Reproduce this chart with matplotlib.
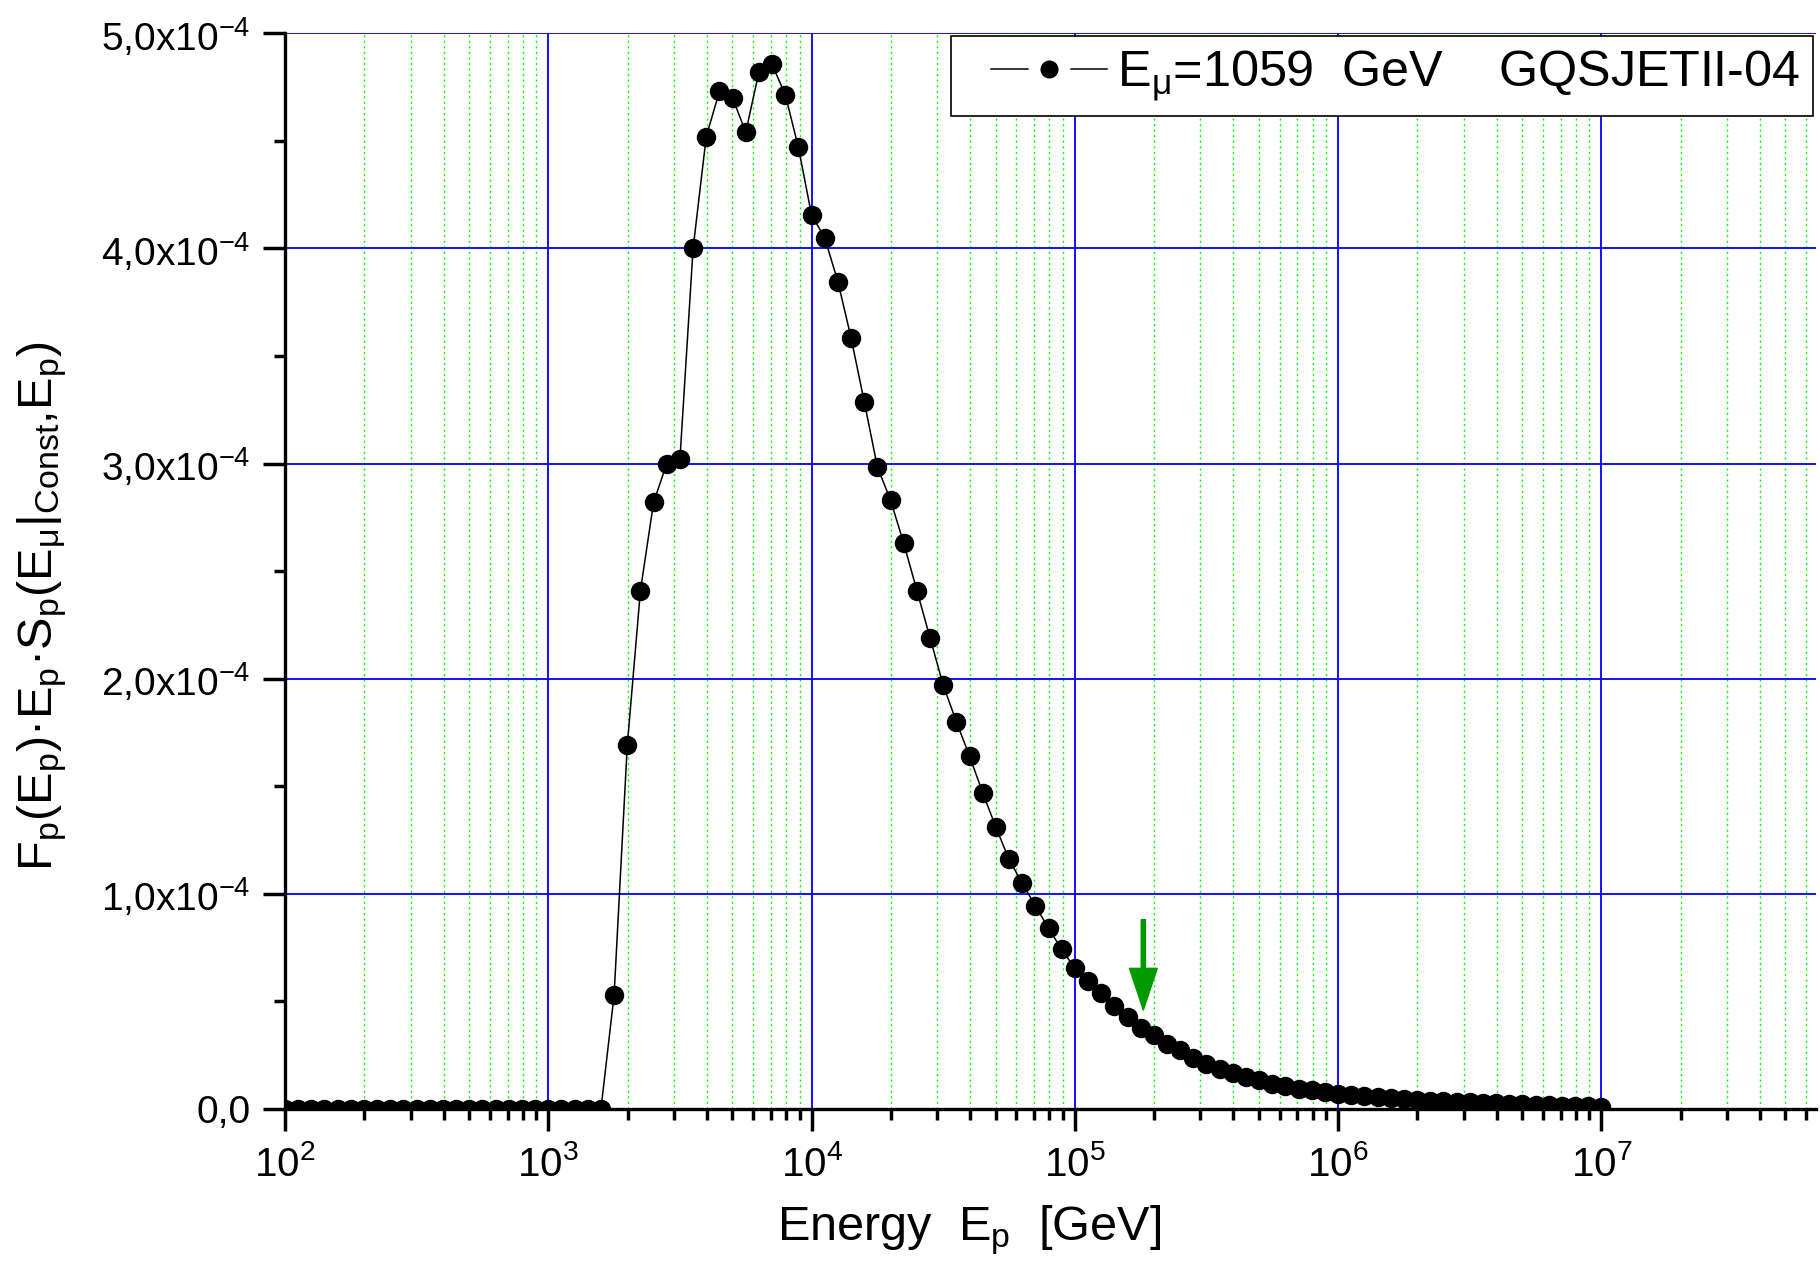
import numpy as np
import matplotlib
matplotlib.use("Agg")
import matplotlib.pyplot as plt
from matplotlib.ticker import LogLocator, NullFormatter, MultipleLocator
from matplotlib.legend_handler import HandlerLine2D

# ---------------- data ----------------
# energies: 20 points per decade from 1e2 to 1e7
log_e_start = 2.0
log_e_step = 0.05
n_points = 101
energy = 10 ** (log_e_start + log_e_step * np.arange(n_points))

# values in units of 1e-4
values_e4 = [
    0, 0, 0, 0, 0, 0, 0, 0, 0, 0,
    0, 0, 0, 0, 0, 0, 0, 0, 0, 0,
    0, 0, 0, 0, 0,
    0.53, 1.69, 2.41, 2.82, 3.00, 3.02, 4.00, 4.52, 4.73, 4.70,
    4.54, 4.82, 4.855, 4.715, 4.47, 4.155, 4.05, 3.845, 3.585, 3.288,
    2.984, 2.83, 2.63, 2.41, 2.19, 1.97, 1.80, 1.64, 1.47, 1.31,
    1.16, 1.05, 0.944, 0.84, 0.742, 0.654, 0.595, 0.537, 0.478, 0.427,
    0.377, 0.342, 0.304, 0.272, 0.238, 0.210, 0.188, 0.168, 0.149, 0.134,
    0.118, 0.106, 0.095, 0.087, 0.079, 0.070, 0.064, 0.059, 0.054, 0.050,
    0.045, 0.042, 0.039, 0.036, 0.033, 0.031, 0.028, 0.026, 0.024, 0.022,
    0.020, 0.018, 0.016, 0.014, 0.012, 0.011,
]
values = np.array(values_e4) * 1e-4

x_ticks = [1e2, 1e3, 1e4, 1e5, 1e6, 1e7]
x_tick_labels = ['10$^{2}$', '10$^{3}$', '10$^{4}$', '10$^{5}$', '10$^{6}$', '10$^{7}$']
y_ticks = [0, 1e-4, 2e-4, 3e-4, 4e-4, 5e-4]
y_tick_labels = ['0,0', '1,0x10$^{-4}$', '2,0x10$^{-4}$', '3,0x10$^{-4}$',
                 '4,0x10$^{-4}$', '5,0x10$^{-4}$']

legend_label = 'E$_\\mathregular{μ}$=1059  GeV    GQSJETII-04'
x_label = 'Energy  E$_\\mathregular{p}$  [GeV]'
y_label = ('F$_\\mathregular{p}$(E$_\\mathregular{p}$)·E$_\\mathregular{p}$·'
           'S$_\\mathregular{p}$(E$_\\mathregular{μ}$|$_\\mathregular{Const}$,E$_\\mathregular{p}$)')

arrow_x = 1.82e5
arrow_tail_y = 0.88e-4
arrow_tip_y = 0.46e-4

# ---------------- style ----------------
plt.rcParams['font.family'] = ['Liberation Sans', 'DejaVu Sans']
plt.rcParams['mathtext.fontset'] = 'custom'
plt.rcParams['mathtext.rm'] = 'Liberation Sans'
plt.rcParams['mathtext.it'] = 'Liberation Sans:italic'
plt.rcParams['mathtext.bf'] = 'Liberation Sans:bold'
plt.rcParams['mathtext.sf'] = 'Liberation Sans'


class OffsetLineHandler(HandlerLine2D):
    """Legend line handler that leaves an empty gap on the left."""
    def __init__(self, gap_pts, **kw):
        super().__init__(**kw)
        self.gap_pts = gap_pts

    def create_artists(self, legend, orig_handle, xdescent, ydescent, width,
                       height, fontsize, trans):
        gap = self.gap_pts
        return super().create_artists(legend, orig_handle, xdescent - gap, ydescent,
                                      width - gap, height, fontsize, trans)


fig = plt.figure(figsize=(18.2, 12.63), dpi=100)
ax = fig.add_axes([285 / 1820, 1 - 1109 / 1263, (1816 - 285) / 1820, (1109 - 33.3) / 1263])

line, = ax.plot(energy, values, color='black', lw=1.1, marker='o', ms=14,
                markeredgewidth=0, label=legend_label, zorder=3)

ax.set_xscale('log')
ax.set_xlim(1e2, 10 ** 7.815)
ax.set_ylim(0, 5e-4)

ax.set_xticks(x_ticks, labels=x_tick_labels)
ax.xaxis.set_minor_locator(LogLocator(base=10, subs=np.arange(2, 10), numticks=100))
ax.xaxis.set_minor_formatter(NullFormatter())
ax.set_yticks(y_ticks, labels=y_tick_labels)
ax.yaxis.set_minor_locator(MultipleLocator(0.5e-4))

ax.set_axisbelow(True)
ax.grid(which='major', axis='both', color='#0000ff', lw=1.3)
ax.grid(which='minor', axis='x', color='#00ff00', ls=(0, (1.5, 2.5)), lw=1.0)

for s in ['top', 'right']:
    ax.spines[s].set_visible(False)
for s in ['left', 'bottom']:
    ax.spines[s].set_linewidth(2.4)

ax.tick_params(which='major', direction='out', length=16, width=2.5, pad=10)
ax.tick_params(which='minor', direction='out', length=8, width=2.5)
ax.tick_params(axis='x', which='major', labelsize=29)
ax.tick_params(axis='y', which='major', labelsize=28, pad=9)

# arrow
ax.annotate('', xy=(arrow_x, arrow_tip_y), xytext=(arrow_x, arrow_tail_y),
            arrowprops=dict(facecolor='#009900', edgecolor='#009900', width=3,
                            headwidth=20, headlength=30, shrink=0),
            zorder=4)

# legend
leg = ax.legend(loc='upper right', bbox_to_anchor=(0.998, 0.9975), borderaxespad=0,
                fontsize=36.3, frameon=True, fancybox=False, framealpha=1,
                edgecolor='black', handlelength=2.85, handletextpad=0.2,
                borderpad=0.25, numpoints=1,
                handler_map={line: OffsetLineHandler(gap_pts=19.8)})
leg.get_frame().set_linewidth(1.2)
h = leg.legend_handles[0]
h.set_markeredgecolor('white')
h.set_markeredgewidth(8.5)
h.set_markersize(21.5)

fig.text(969 / 1820, 1 - 1240 / 1263, x_label, fontsize=35, ha='center', va='baseline')
fig.text(42 / 1820, 1 - 606 / 1263, y_label, fontsize=35, ha='center', va='center',
         rotation=90)

fig.savefig('out.png', dpi=100)
